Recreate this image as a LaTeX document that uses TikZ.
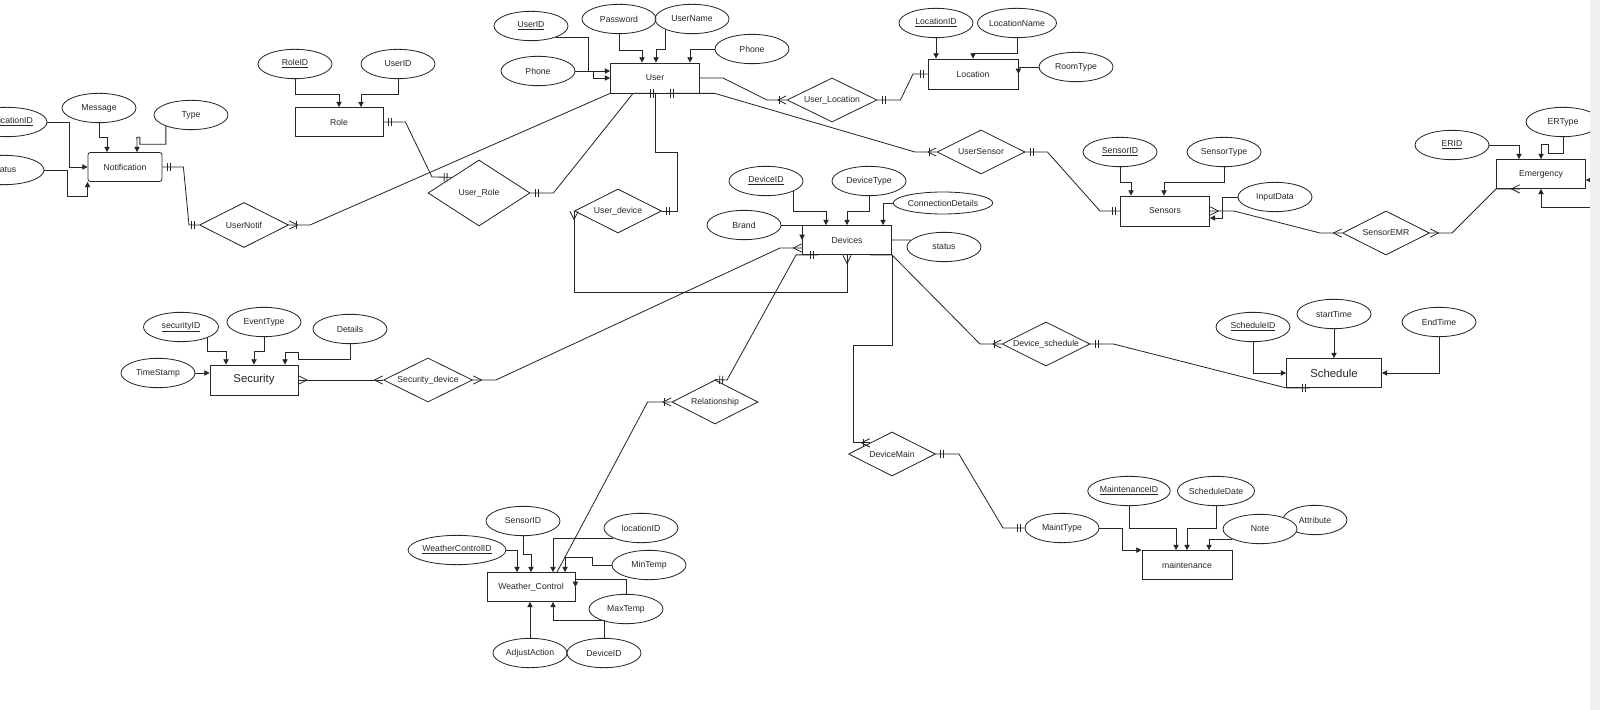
\documentclass[tikz,border=0pt]{standalone}
\usepackage{fontspec}
\setmainfont{Liberation Sans}
\usetikzlibrary{arrows.meta,shapes.geometric,decorations.markings}

\tikzset{
  entity/.style={draw, rectangle, minimum width=2.67cm, minimum height=0.9cm, inner sep=1pt},
  attrib/.style={draw, ellipse, minimum width=2.22cm, minimum height=0.88cm, inner sep=0pt},
  relship/.style={draw, diamond, aspect=2, minimum width=2.64cm, minimum height=1.32cm, inner sep=0pt},
  attr/.style={-{Triangle[length=4.5pt,width=4.5pt]}},
  one end/.style={postaction={decorate,decoration={markings,
      mark=at position -4pt with {\draw (0,-3.5pt) -- (0,3.5pt);},
      mark=at position -6.5pt with {\draw (0,-3.5pt) -- (0,3.5pt);}}}},
  one start/.style={postaction={decorate,decoration={markings,
      mark=at position 4pt with {\draw (0,-3.5pt) -- (0,3.5pt);},
      mark=at position 6.5pt with {\draw (0,-3.5pt) -- (0,3.5pt);}}}},
  many end/.style={postaction={decorate,decoration={markings,
      mark=at position -0.3pt with {\draw (0,3.5pt) -- (-7pt,0) -- (0,-3.5pt);}}}},
  many start/.style={postaction={decorate,decoration={markings,
      mark=at position 0.3pt with {\draw (0,3.5pt) -- (7pt,0) -- (0,-3.5pt);}}}},
  many one end/.style={postaction={decorate,decoration={markings,
      mark=at position -0.3pt with {\draw (0,3.5pt) -- (-7pt,0) -- (0,-3.5pt);},
      mark=at position -6pt with {\draw (0,-3.5pt) -- (0,3.5pt);}}}},
  many one start/.style={postaction={decorate,decoration={markings,
      mark=at position 0.3pt with {\draw (0,3.5pt) -- (7pt,0) -- (0,-3.5pt);},
      mark=at position 6pt with {\draw (0,-3.5pt) -- (0,3.5pt);}}}},
}

\begin{document}
\begin{tikzpicture}[x=0.03cm, y=-0.03cm, line width=0.7pt, color=black!85,
  font=\fontsize{7.4pt}{9pt}\selectfont]

\useasboundingbox (0,0) rectangle (1600,710);
\fill[white] (0,0) rectangle (1600,710);

% === Notification ===
\node[entity, rounded corners=2pt, minimum width=2.22cm, minimum height=0.87cm] (Notification) at (125,167) {Notification};
\node[attrib, minimum width=2.4cm] (NotifID) at (7,122) {\underline{NotificationID}};
\node[attrib, minimum width=2.4cm] (Status) at (4,170) {Status};
\node[attrib] (Message) at (99,108) {Message};
\node[attrib] (Type) at (191,115) {Type};

% === Role ===
\node[entity, minimum width=2.64cm, minimum height=0.87cm] (Role) at (339,122) {Role};
\node[attrib] (RoleID) at (295,64) {\underline{RoleID}};
\node[attrib] (RoleUserID) at (398,64) {UserID};

% === User ===
\node[entity] (User) at (655,78) {User};
\node[attrib] (UserID) at (531,26) {\underline{UserID}};
\node[attrib] (Password) at (619,19) {Password};
\node[attrib] (UserName) at (692,19) {UserName};
\node[attrib] (PhoneR) at (752,49) {Phone};
\node[attrib] (PhoneL) at (538,71) {Phone};

% === Location ===
\node[entity, minimum width=2.7cm] (Location) at (973,74) {Location};
\node[attrib] (LocationID) at (936,23) {\underline{LocationID}};
\node[attrib, minimum width=2.25cm] (LocationName) at (1017,23) {LocationName};
\node[attrib] (RoomType) at (1076,67) {RoomType};

% === Devices ===
\node[entity, minimum height=0.87cm] (Devices) at (847,240) {Devices};
\node[attrib] (DeviceID) at (766,181) {\underline{DeviceID}};
\node[attrib] (DeviceType) at (869,181) {DeviceType};
\node[attrib] (Brand) at (744,225) {Brand};
\node[attrib, minimum height=0.66cm] (ConnDetails) at (943,203) {ConnectionDetails};
\node[attrib] (DevStatus) at (944,247) {status};

% === Sensors ===
\node[entity] (Sensors) at (1165,211) {Sensors};
\node[attrib] (SensorID) at (1120,152) {\underline{SensorID}};
\node[attrib] (SensorType) at (1224,152) {SensorType};
\node[attrib] (InputData) at (1275,197) {InputData};

% === Emergency ===
\node[entity, minimum height=0.87cm] (Emergency) at (1541,174) {Emergency};
\node[attrib] (ERID) at (1452,145) {\underline{ERID}};
\node[attrib] (ERType) at (1563,122) {ERType};

% === Security ===
\node[entity, minimum width=2.64cm, font=\fontsize{9.7pt}{11pt}\selectfont] (Security) at (254,380) {Security};
\node[attrib, minimum width=2.25cm] (securityID) at (181,327) {\underline{securityID}};
\node[attrib] (EventType) at (264,322) {EventType};
\node[attrib] (Details) at (350,329) {Details};
\node[attrib] (TimeStamp) at (158,373) {TimeStamp};

% === Schedule ===
\node[entity, minimum width=2.85cm, minimum height=0.87cm, font=\fontsize{9.7pt}{11pt}\selectfont] (Schedule) at (1334,373) {Schedule};
\node[attrib] (ScheduleID) at (1253,327) {\underline{ScheduleID}};
\node[attrib] (startTime) at (1334,314) {startTime};
\node[attrib] (EndTime) at (1439,322) {EndTime};

% === maintenance ===
\node[entity, minimum width=2.7cm, minimum height=0.87cm] (maintenance) at (1187,565) {maintenance};
\node[attrib] (MaintType) at (1062,528) {MaintType};
\node[attrib] (MaintenanceID) at (1129,491) {\underline{MaintenanceID}};
\node[attrib] (ScheduleDate) at (1216,491) {ScheduleDate};
\node[attrib, minimum width=1.92cm] (Attribute) at (1315,520) {Attribute};
\node[attrib, fill=white] (Note) at (1260,529) {Note};

% === Weather_Control ===
\node[entity, minimum width=2.64cm, minimum height=0.87cm] (WeatherCtrl) at (531,587) {Weather\_Control};
\node[attrib] (WCSensorID) at (523,521) {SensorID};
\node[attrib] (WClocationID) at (641,528) {locationID};
\node[attrib, minimum width=2.16cm] (WeatherControlID) at (457,550) {\underline{WeatherControlID}};
\node[attrib] (MinTemp) at (649,565) {MinTemp};
\node[attrib] (MaxTemp) at (626,609) {MaxTemp};
\node[attrib] (AdjustAction) at (530,653) {AdjustAction};
\node[attrib] (WCDeviceID) at (604,653) {DeviceID};

% === relationships ===
\node[relship, minimum width=2.67cm, minimum height=1.35cm] (UserNotif) at (244,225) {UserNotif};
\node[relship, minimum width=3.06cm, minimum height=1.98cm] (UserRole) at (479,193) {User\_Role};
\node[relship, minimum width=2.61cm] (UserDevice) at (618,211) {User\_device};
\node[relship, minimum width=2.7cm] (UserLocation) at (832,100) {User\_Location};
\node[relship] (UserSensor) at (981,152) {UserSensor};
\node[relship, minimum width=2.61cm] (SensorEMR) at (1386,233) {SensorEMR};
\node[relship, minimum width=2.67cm] (SecurityDevice) at (428,380) {Security\_device};
\node[relship, minimum width=2.58cm] (Relationship) at (715,402) {Relationship};
\node[relship] (DeviceSchedule) at (1046,344) {Device\_schedule};
\node[relship, minimum width=2.61cm] (DeviceMain) at (892,454) {DeviceMain};

% === attribute links ===
\draw[attr] (NotifID.east) -- ++(22,0) |- (Notification.west);
\draw[attr] (Status.east) -- ++(23,0) -- ++(0,26) -| (Notification.south west);
\draw[attr] (Message.south) -- ++(0,14) -| (Notification.north -| 107,0);
\draw[attr] (Type.204) -- ++(0,18) -- ++(-26,0) -- ++(0,-7) -- ++(-3,0) -- (Notification.north -| 137,0);

\draw[attr] (RoleID.south) -- ++(0,15) -| (Role.north);
\draw[attr] (RoleUserID.south) -- ++(0,15) -| (Role.north -| 361,0);

\draw[attr] (UserID.336) -- ++(32,0) |- (User.west |- 0,71);
\draw[attr] (PhoneL.east) -- ++(18,0) |- (User.west);
\draw[attr] (Password.south) -- ++(0,16) -| (User.north -| 642,0);
\draw[attr] (UserName.202) -- ++(0,20) -| (User.north -| 656,0);
\draw[attr] (PhoneR.west) -| (User.north -| 690,0);

\draw[attr] (LocationID.south) -- (LocationID.south |- Location.north);
\draw[attr] (LocationName.south) -- ++(0,15) -| (Location.north);
\draw[attr] (RoomType.west) -| (Location.east);

\draw[attr] (DeviceID.340) -- ++(0,20) -| (Devices.north -| 826,0);
\draw[attr] (DeviceType.south) -- ++(0,15) -| (Devices.north);
\draw[attr] (ConnDetails.west) -| (Devices.north -| 883,0);
\draw[attr] (Brand.east) -| (Devices.west);
\draw (Devices.east) -- (DevStatus.168);

\draw[attr] (SensorID.south) -- ++(0,15) -| (Sensors.north -| 1131,0);
\draw[attr] (SensorType.south) -- ++(0,15) -| (Sensors.north -| 1164,0);
\draw[attr] (InputData.west) -- ++(-15,0) |- (Sensors.east |- 0,218);

\draw[attr] (ERID.east) -| (Emergency.north -| 1519,0);
\draw[attr] (ERType.south) -- ++(0,16) -- ++(-15,0) -- ++(0,-9) -| (Emergency.north -| 1541,0);
\coordinate (OffA) at (1600,180);
\coordinate (OffB) at (1600,207);
\draw[attr] (OffA) -- (Emergency.east |- OffA);
\draw[attr] (OffB) -| (Emergency.south);

\draw[attr] (securityID.338) -- ++(0,14) -| (Security.north -| 226,0);
\draw[attr] (EventType.south) -- ++(0,14) -| (Security.north);
\draw[attr] (Details.south) -- ++(0,15) -- ++(-52,0) -- ++(0,-7) -| (Security.north -| 285,0);
\draw[attr] (TimeStamp.east) -- (Security.west |- TimeStamp.east);

\draw[attr] (ScheduleID.south) |- (Schedule.west);
\draw[attr] (startTime.south) -- (Schedule.north);
\draw[attr] (EndTime.south) |- (Schedule.east);

\draw[attr] (MaintType.east) -- ++(23,0) |- (maintenance.north west);
\draw[attr] (MaintenanceID.south) -- ++(0,22) -| (maintenance.north -| 1176,0);
\draw[attr] (ScheduleDate.south) -- ++(0,22) -| (maintenance.north);
\draw[attr] (Note.200) -| (maintenance.north -| 1209,0);

\draw[attr] (WeatherControlID.east) -| (WeatherCtrl.north -| 517,0);
\draw[attr] (WCSensorID.south) -- ++(0,18) -| (WeatherCtrl.north);
\draw[attr] (WClocationID.200) -| (WeatherCtrl.north -| 553,0);
\draw[attr] (MinTemp.west) -- ++(-19,0) -- ++(0,-8) -| (WeatherCtrl.north -| 565,0);
\draw[attr] (MaxTemp.north) -- ++(0,-15) -| (WeatherCtrl.east);
\draw[attr] (WCDeviceID.north) -- ++(0,-18) -| (WeatherCtrl.south -| 553,0);
\draw[attr] (AdjustAction.north) -- (WeatherCtrl.south -| AdjustAction.north);

% === relationship links ===
\draw[one start, one end] (Notification.east) -- ++(21,0) -- (189,225) -- (UserNotif.west);
\draw[many one end] (User.south west) -- (310,225) -- (UserNotif.east);
\draw[one start, one end] (Role.east) -- ++(22,0) -- (432,177) -- (UserRole.150);
\draw[one start, one end] (UserRole.east) -- ++(23,0) -- (User.south -| 633,0) -- (User.south -| 658,0);
\draw[one end] (User.south) -- ++(0,59) -- ++(22,0) |- (UserDevice.east);
\draw[many start, many end] (UserDevice.west) -- ++(0,81) -| (Devices.south);
\draw[many one end] (User.east) -- ++(23,0) -- (767,100) -- (UserLocation.west);
\draw[one start, one end] (UserLocation.east) -- ++(23,0) -- (913,74) -- (Location.west);
\draw[one start, many one end] (User.south -| 666,0) -- (User.south east) -- ++(15,0) -- (915,152) -- (UserSensor.west);
\draw[one start, one end] (UserSensor.east) -- ++(22,0) -- (1100,211) -- (Sensors.west);
\draw[many start, many end] (Sensors.east) -- ++(24,0) -- (1320,233) -- (SensorEMR.west);
\draw[many start, many end] (SensorEMR.east) -- ++(22,0) -- (Emergency.south west) -- (Emergency.south -| 1520,0);
\draw[many start, many end] (Security.east) -- (SecurityDevice.west);
\draw[many start, many end] (SecurityDevice.east) -- ++(23,0) -- (780,248) -- (Devices.west |- 0,248);
\draw[one start, one end] (Devices.south -| 818,0) -- (Devices.south west) -- ++(-6,0) -- (727,380) -- (Relationship.north);
\draw[many one start] (Relationship.west) -- ++(-24,0) -- (WeatherCtrl.north -| 557,0);
\draw[many one end] (Devices.south -| 870,0) -- (Devices.south east) -- (980,344) -- (DeviceSchedule.west);
\draw[one start, one end] (DeviceSchedule.east) -- ++(23,0) -- (Schedule.south west) -- (Schedule.south -| 1310,0);
\draw[many one end] (Devices.south east) -- ++(0,90) -- ++(-39,0) |- (DeviceMain.north west);
\draw[one start, one end] (DeviceMain.east) -- ++(23,0) -- (1003,528) -- (MaintType.west);

% === right strip ===
\fill[black!6] (1590,0) rectangle (1600,710);

\end{tikzpicture}
\end{document}
